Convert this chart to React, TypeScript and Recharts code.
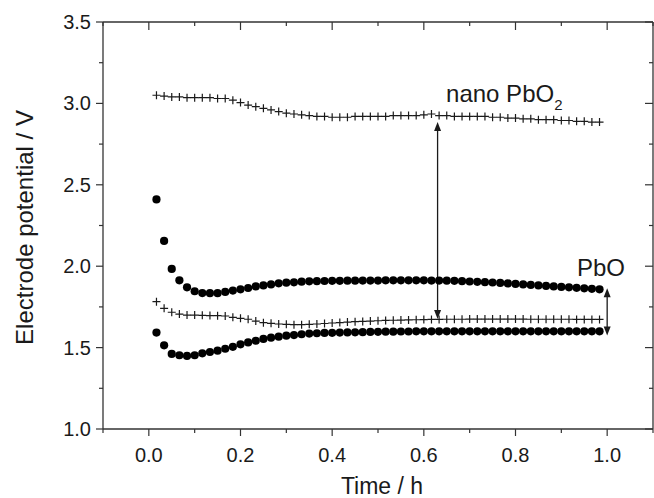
import React from "react";
import { ScatterChart, Scatter, XAxis, YAxis, ReferenceLine, ReferenceDot } from "recharts";

// time of each reading, in minutes
const minutes = [
  1, 2, 3, 4, 5, 6, 7, 8, 9, 10, 11, 12, 13, 14, 15, 16, 17, 18, 19, 20,
  21, 22, 23, 24, 25, 26, 27, 28, 29, 30, 31, 32, 33, 34, 35, 36, 37, 38, 39, 40,
  41, 42, 43, 44, 45, 46, 47, 48, 49, 50, 51, 52, 53, 54, 55, 56, 57, 58, 59,
];

// nano PbO2 anode (crosses, upper)
const nanoAnode = [
  3.05, 3.045, 3.04, 3.04, 3.035, 3.035, 3.035, 3.035, 3.03, 3.03,
  3.02, 3.005, 2.99, 2.98, 2.97, 2.96, 2.95, 2.94, 2.935, 2.93,
  2.925, 2.92, 2.92, 2.915, 2.915, 2.915, 2.92, 2.92, 2.92, 2.92,
  2.92, 2.925, 2.925, 2.925, 2.925, 2.93, 2.935, 2.925, 2.925, 2.92,
  2.92, 2.92, 2.92, 2.92, 2.915, 2.915, 2.91, 2.91, 2.905, 2.905,
  2.9, 2.9, 2.9, 2.895, 2.895, 2.89, 2.89, 2.885, 2.885,
];

// PbO anode (dots, upper)
const pboAnode = [
  2.41, 2.155, 1.983, 1.913, 1.87, 1.846, 1.835, 1.834, 1.834, 1.842,
  1.85, 1.858, 1.866, 1.876, 1.882, 1.888, 1.895, 1.899, 1.901, 1.905,
  1.907, 1.908, 1.909, 1.91, 1.91, 1.911, 1.911, 1.912, 1.912, 1.912,
  1.913, 1.913, 1.913, 1.913, 1.913, 1.913, 1.912, 1.912, 1.911, 1.91,
  1.908, 1.906, 1.904, 1.902, 1.9, 1.897, 1.894, 1.891, 1.888, 1.885,
  1.882, 1.879, 1.876, 1.873, 1.87, 1.867, 1.864, 1.861, 1.858,
];

// nano PbO2 cathode (crosses, lower)
const nanoCathode = [
  1.782, 1.741, 1.717, 1.706, 1.7, 1.7, 1.698, 1.697, 1.696, 1.694,
  1.686, 1.68, 1.674, 1.663, 1.653, 1.649, 1.645, 1.643, 1.641, 1.641,
  1.643, 1.645, 1.648, 1.651, 1.654, 1.657, 1.659, 1.661, 1.663, 1.665,
  1.667, 1.668, 1.669, 1.67, 1.671, 1.672, 1.673, 1.673, 1.674, 1.674,
  1.674, 1.675, 1.675, 1.675, 1.675, 1.675, 1.675, 1.675, 1.675, 1.674,
  1.674, 1.674, 1.674, 1.674, 1.674, 1.673, 1.673, 1.673, 1.673,
];

// PbO cathode (dots, lower)
const pboCathode = [
  1.592, 1.514, 1.461, 1.453, 1.449, 1.453, 1.465, 1.473, 1.481, 1.493,
  1.505, 1.52, 1.532, 1.542, 1.553, 1.561, 1.567, 1.573, 1.577, 1.582,
  1.586, 1.588, 1.59, 1.591, 1.592, 1.593, 1.594, 1.595, 1.596, 1.597,
  1.598, 1.598, 1.599, 1.599, 1.6, 1.6, 1.6, 1.6, 1.6, 1.6,
  1.6, 1.6, 1.6, 1.6, 1.6, 1.6, 1.6, 1.6, 1.6, 1.6,
  1.6, 1.6, 1.6, 1.6, 1.6, 1.6, 1.6, 1.6, 1.6,
];

const xDomain = [-0.1, 1.1];
const yDomain = [1.0, 3.5];
const xMajorTicks = [0, 0.2, 0.4, 0.6, 0.8, 1.0];
const xTickLabels = ["0.0", "0.2", "0.4", "0.6", "0.8", "1.0"];
const xMinorTicks = [-0.1, 0.1, 0.3, 0.5, 0.7, 0.9, 1.1];
const yMajorTicks = [1.0, 1.5, 2.0, 2.5, 3.0, 3.5];
const yTickLabels = ["1.0", "1.5", "2.0", "2.5", "3.0", "3.5"];
const yMinorTicks = [1.25, 1.75, 2.25, 2.75, 3.25];

// double-headed arrows: x, upper y, lower y
const arrowX = [0.63, 1.0];
const arrowTop = [2.885, 1.865];
const arrowBottom = [1.675, 1.575];

const FONT = "'Liberation Sans', Arial, Helvetica, sans-serif";
const INK = "#1a1a1a";
const AXIS = "#333";

const toSeries = (vals: number[]) => minutes.map((m, i) => ({ t: m / 60, v: vals[i] }));

const xTicksAll = [...xMinorTicks, ...xMajorTicks].sort((a, b) => a - b);
const yTicksAll = [...yMinorTicks, ...yMajorTicks].sort((a, b) => a - b);

const majorIndex = (v: number, majors: number[]) => majors.findIndex((m) => Math.abs(m - v) < 1e-6);

const BottomTick = (p: any) => {
  const idx = majorIndex(p.payload.value, xMajorTicks);
  const major = idx >= 0;
  return (
    <g>
      <line x1={p.x} y1={p.y} x2={p.x} y2={p.y + (major ? 7 : 4)} stroke={AXIS} strokeWidth={1.2} />
      {major && (
        <text x={p.x} y={p.y + 33} textAnchor="middle" fontSize={20} fontFamily={FONT} fill={INK}>
          {xTickLabels[idx]}
        </text>
      )}
    </g>
  );
};

const LeftTick = (p: any) => {
  const idx = majorIndex(p.payload.value, yMajorTicks);
  const major = idx >= 0;
  return (
    <g>
      <line x1={p.x} y1={p.y} x2={p.x - (major ? 7 : 4)} y2={p.y} stroke={AXIS} strokeWidth={1.2} />
      {major && (
        <text x={p.x - 12} y={p.y + 7} textAnchor="end" fontSize={20} fontFamily={FONT} fill={INK}>
          {yTickLabels[idx]}
        </text>
      )}
    </g>
  );
};

// plain frame edge
const EdgeShape = (p: any) => (
  <line x1={p.x1} y1={p.y1} x2={p.x2} y2={p.y2} stroke={AXIS} strokeWidth={1.3} />
);

// inward tick at the top end of a vertical segment
const topTickShape = (len: number) => (p: any) => {
  const top = Math.min(p.y1, p.y2);
  return <line x1={p.x1} y1={top} x2={p.x1} y2={top + len} stroke={AXIS} strokeWidth={1.2} />;
};
// inward tick at the right end of a horizontal segment
const rightTickShape = (len: number) => (p: any) => {
  const right = Math.max(p.x1, p.x2);
  return <line x1={right} y1={p.y1} x2={right - len} y2={p.y1} stroke={AXIS} strokeWidth={1.2} />;
};

const Cross = (p: any) => {
  const s = 4;
  return (
    <path
      d={`M${p.cx - s},${p.cy}H${p.cx + s}M${p.cx},${p.cy - s}V${p.cy + s}`}
      stroke={INK}
      strokeWidth={1.2}
      fill="none"
    />
  );
};

const Dot = (p: any) => <circle cx={p.cx} cy={p.cy} r={4.1} fill="#000" />;

const Arrow = (p: any) => {
  const { x1, y1, x2, y2 } = p;
  const top = Math.min(y1, y2);
  const bot = Math.max(y1, y2);
  const L = 9;
  const W = 3.5;
  return (
    <g>
      <line x1={x1} y1={top + L - 1} x2={x2} y2={bot - L + 1} stroke={INK} strokeWidth={1.3} />
      <path d={`M${x1},${top}L${x1 - W},${top + L}L${x1 + W},${top + L}Z`} fill={INK} />
      <path d={`M${x1},${bot}L${x1 - W},${bot - L}L${x1 + W},${bot - L}Z`} fill={INK} />
    </g>
  );
};

function NanoLabel(p: any) {
  const vb = p.viewBox || {};
  return (
    <text x={vb.x} y={vb.y} fontSize={24} fontFamily={FONT} fill={INK}>
      nano PbO
      <tspan fontSize={15} dy={8}>2</tspan>
    </text>
  );
}

function PbOLabel(p: any) {
  const vb = p.viewBox || {};
  return (
    <text x={vb.x} y={vb.y} fontSize={24} fontFamily={FONT} fill={INK}>
      PbO
    </text>
  );
}

function XTitle(p: any) {
  const vb = p.viewBox || {};
  return (
    <text x={vb.x + vb.width / 2 + 4} y={vb.y + 65} textAnchor="middle" fontSize={23} fontFamily={FONT} fill={INK}>
      Time / h
    </text>
  );
}

function YTitle(p: any) {
  const vb = p.viewBox || {};
  const cy = vb.y + vb.height / 2 + 2;
  const x = 33;
  return (
    <text
      x={x}
      y={cy}
      transform={`rotate(-90, ${x}, ${cy})`}
      textAnchor="middle"
      fontSize={24}
      fontFamily={FONT}
      fill={INK}
    >
      Electrode potential / V
    </text>
  );
}

export default function App() {
  return (
    <div style={{ position: "absolute", left: 0, top: 0, width: 654, height: 498, background: "#fff" }}>
      <ScatterChart width={654} height={498} margin={{ top: 22, right: 1, bottom: 9, left: 23 }}>
        <XAxis
          dataKey="t"
          type="number"
          domain={xDomain}
          ticks={xTicksAll}
          interval={0}
          tickSize={0}
          tickMargin={0}
          tickLine={false}
          tick={BottomTick}
          height={60}
          allowDataOverflow
          axisLine={{ stroke: AXIS, strokeWidth: 1.3 }}
          label={<XTitle />}
        />
        <YAxis
          dataKey="v"
          type="number"
          domain={yDomain}
          ticks={yTicksAll}
          interval={0}
          tickSize={0}
          tickMargin={0}
          tickLine={false}
          tick={LeftTick}
          width={80}
          allowDataOverflow
          axisLine={{ stroke: AXIS, strokeWidth: 1.3 }}
          label={<YTitle />}
        />
        <ReferenceLine
          segment={[
            { x: xDomain[0], y: yDomain[1] },
            { x: xDomain[1], y: yDomain[1] },
          ]}
          shape={EdgeShape}
          ifOverflow="visible"
        />
        <ReferenceLine
          segment={[
            { x: xDomain[1], y: yDomain[0] },
            { x: xDomain[1], y: yDomain[1] },
          ]}
          shape={EdgeShape}
          ifOverflow="visible"
        />
        {xTicksAll.map((v) => (
          <ReferenceLine
            key={`tx${v}`}
            segment={[
              { x: v, y: yDomain[1] },
              { x: v, y: yDomain[0] },
            ]}
            shape={topTickShape(majorIndex(v, xMajorTicks) >= 0 ? 8 : 4)}
            ifOverflow="visible"
          />
        ))}
        {yTicksAll.map((v) => (
          <ReferenceLine
            key={`ry${v}`}
            segment={[
              { x: xDomain[0], y: v },
              { x: xDomain[1], y: v },
            ]}
            shape={rightTickShape(majorIndex(v, yMajorTicks) >= 0 ? 8 : 4)}
            ifOverflow="visible"
          />
        ))}
        <Scatter data={toSeries(nanoAnode)} shape={Cross} isAnimationActive={false} />
        <Scatter data={toSeries(pboAnode)} shape={Dot} isAnimationActive={false} />
        <Scatter data={toSeries(nanoCathode)} shape={Cross} isAnimationActive={false} />
        <Scatter data={toSeries(pboCathode)} shape={Dot} isAnimationActive={false} />
        {arrowX.map((x, i) => (
          <ReferenceLine
            key={`a${i}`}
            segment={[
              { x, y: arrowTop[i] },
              { x, y: arrowBottom[i] },
            ]}
            shape={Arrow}
            ifOverflow="visible"
          />
        ))}
        <ReferenceDot x={0.6485} y={3.01} r={0} fill="none" stroke="none" label={<NanoLabel />} ifOverflow="visible" />
        <ReferenceDot x={0.934} y={1.94} r={0} fill="none" stroke="none" label={<PbOLabel />} ifOverflow="visible" />
      </ScatterChart>
    </div>
  );
}
